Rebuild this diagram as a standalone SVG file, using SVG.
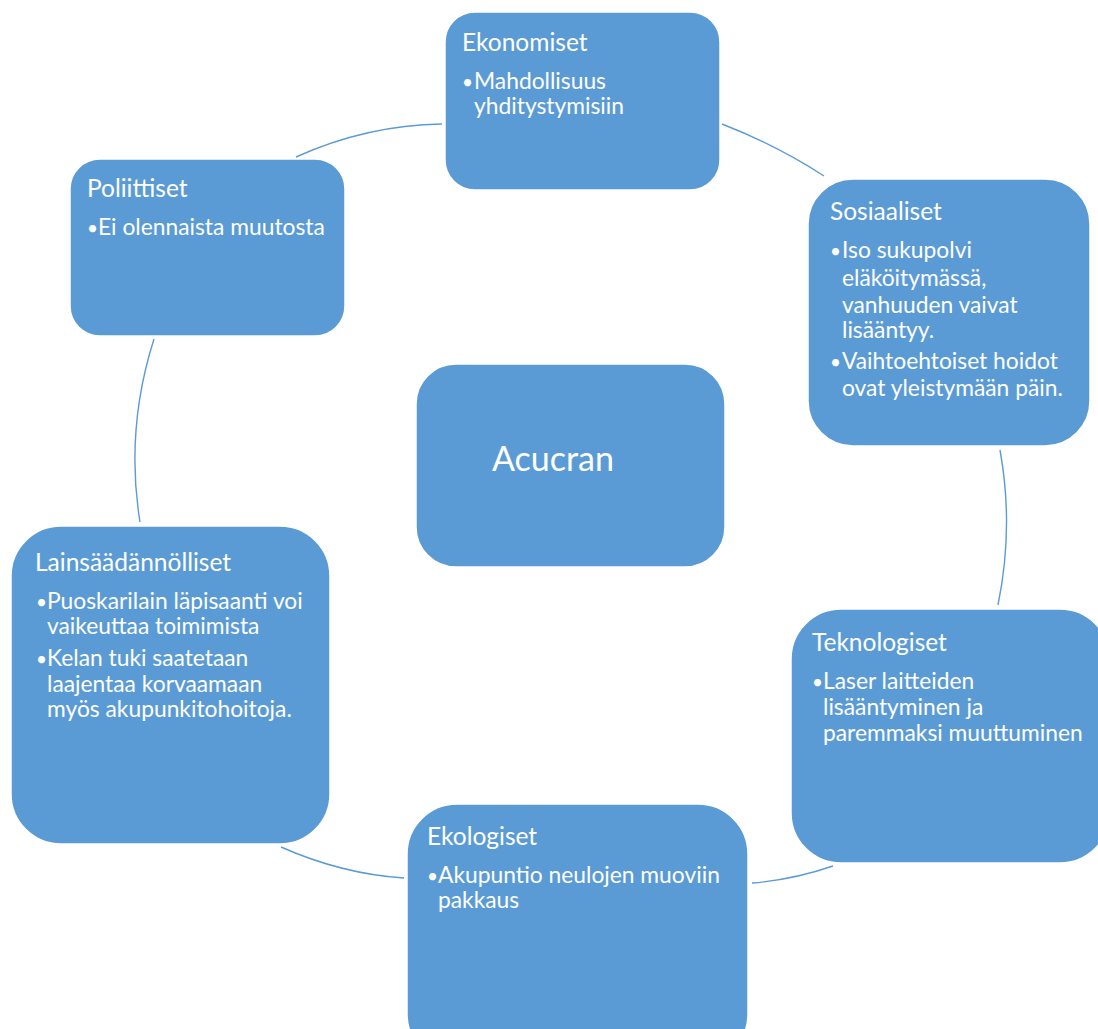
<svg xmlns="http://www.w3.org/2000/svg" width="1098" height="1029" viewBox="0 0 1098 1029">
<style>
.box{fill:#5b9bd5;stroke:#ffffff;stroke-width:1.5}
.h{font-family:Lato,"Liberation Sans",sans-serif;font-size:24.5px;fill:#ffffff}
.b{font-family:Lato,"Liberation Sans",sans-serif;font-size:22.8px;fill:#ffffff}
.d{font-size:19px}
.c{font-family:Lato,"Liberation Sans",sans-serif;font-size:34px;fill:#ffffff}
.arc{fill:none;stroke:#5b9bd5;stroke-width:1.4}
</style>
<rect width="1098" height="1029" fill="#ffffff"/>
<g id="connectors">
<path class="arc" d="M296,157 Q367,125 442,124"/>
<path class="arc" d="M722,124 Q776,145 824,176"/>
<path class="arc" d="M1000,450 Q1014,527 998,605"/>
<path class="arc" d="M833,866 Q792,880 752,883"/>
<path class="arc" d="M404,878 Q342,874 281,847"/>
<path class="arc" d="M140,522 Q125,430 154,339"/>
</g>
<g id="center">
<rect class="box" x="416" y="364" width="309" height="203" rx="40"/>
<text class="c" x="553" y="471" text-anchor="middle">Acucran</text>
</g>
<g id="ekonomiset">
<rect class="box" x="445" y="12" width="275" height="178" rx="30"/>
<text class="h" x="462" y="51">Ekonomiset</text>
<text class="b"><tspan class="d" x="462" y="89">•</tspan><tspan x="474" y="89">Mahdollisuus</tspan><tspan x="474" y="114">yhditystymisiin</tspan></text>
</g>
<g id="sosiaaliset">
<rect class="box" x="808" y="179" width="282" height="267" rx="45"/>
<text class="h" x="830" y="220">Sosiaaliset</text>
<text class="b"><tspan class="d" x="830" y="258">•</tspan><tspan x="842" y="258">Iso sukupolvi</tspan><tspan x="842" y="286">eläköitymässä,</tspan><tspan x="842" y="313">vanhuuden vaivat</tspan><tspan x="842" y="338">lisääntyy.</tspan><tspan class="d" x="830" y="369">•</tspan><tspan x="842" y="369">Vaihtoehtoiset hoidot</tspan><tspan x="842" y="396">ovat yleistymään päin.</tspan></text>
</g>
<g id="teknologiset">
<rect class="box" x="791" y="609" width="319" height="254" rx="50"/>
<text class="h" x="812" y="651">Teknologiset</text>
<text class="b"><tspan class="d" x="812" y="689">•</tspan><tspan x="823" y="689">Laser laitteiden</tspan><tspan x="823" y="715">lisääntyminen ja</tspan><tspan x="823" y="741">paremmaksi muuttuminen</tspan></text>
</g>
<g id="ekologiset">
<rect class="box" x="407" y="804" width="341" height="260" rx="50"/>
<text class="h" x="427" y="845">Ekologiset</text>
<text class="b"><tspan class="d" x="427" y="883">•</tspan><tspan x="438" y="883">Akupuntio neulojen muoviin</tspan><tspan x="438" y="908">pakkaus</tspan></text>
</g>
<g id="lainsaadannolliset">
<rect class="box" x="11" y="526" width="319" height="318" rx="50"/>
<text class="h" x="35" y="571">Lainsäädännölliset</text>
<text class="b"><tspan class="d" x="36" y="609">•</tspan><tspan x="47" y="609">Puoskarilain läpisaanti voi</tspan><tspan x="47" y="634">vaikeuttaa toimimista</tspan><tspan class="d" x="36" y="666">•</tspan><tspan x="47" y="666">Kelan tuki saatetaan</tspan><tspan x="47" y="692">laajentaa korvaamaan</tspan><tspan x="47" y="717">myös akupunkitohoitoja.</tspan></text>
</g>
<g id="poliittiset">
<rect class="box" x="70" y="159" width="275" height="177" rx="30"/>
<text class="h" x="87" y="197">Poliittiset</text>
<text class="b"><tspan class="d" x="87" y="235">•</tspan><tspan x="98" y="235">Ei olennaista muutosta</tspan></text>
</g>
</svg>
